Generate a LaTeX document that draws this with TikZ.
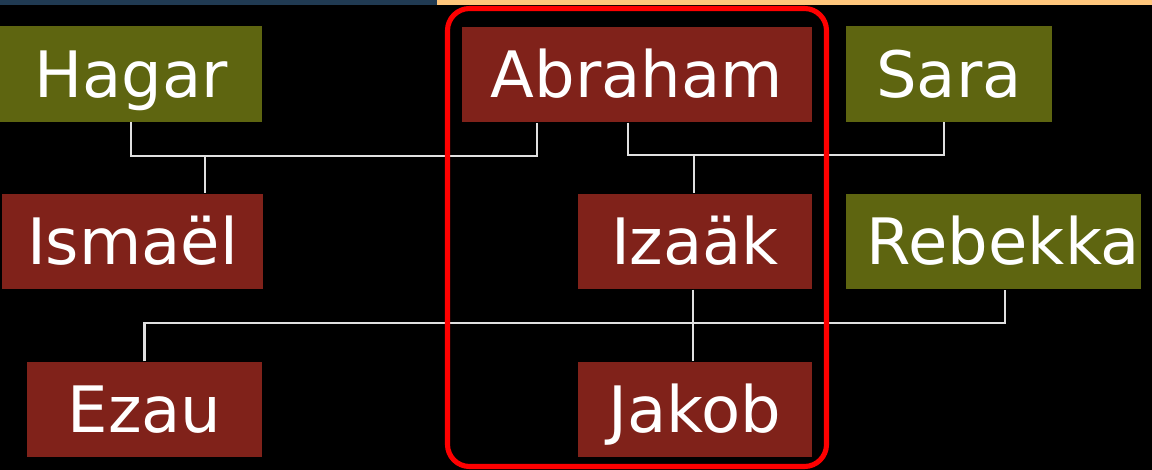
\documentclass[tikz,border=0pt]{standalone}
\usepackage{fontspec}
\setmainfont{DejaVu Sans}
\usetikzlibrary{positioning}

\definecolor{olivebox}{RGB}{94,101,16}
\definecolor{redbox}{RGB}{128,34,26}
\definecolor{barblue}{RGB}{32,58,82}
\definecolor{barpeach}{RGB}{255,198,124}

\tikzset{
  person/.style={text=white,font=\fontsize{18.2}{20}\selectfont,
    text height=13.3pt,text depth=0pt,inner sep=0pt,
    minimum height=0.95cm},
  wife/.style={person,fill=olivebox},
  heir/.style={person,fill=redbox},
  kin/.style={draw=white!88!black,line width=0.6pt},
  frame/.style={draw=red,line width=1.45pt,rounded corners=0.22cm}
}

\begin{document}
\begin{tikzpicture}[x=0.01cm,y=-0.01cm]

%BACKGROUND
\fill[black] (0,0) rectangle (1152,470);
\useasboundingbox (0,0) rectangle (1152,470);
% top bar
\fill[barblue] (0,0) rectangle (437,5);
\fill[barpeach] (437,0) rectangle (1152,5);

%PERSONS
% first generation
\node[wife,minimum width=2.62cm] (hagar) at (131,74) {Hagar};
\node[heir,minimum width=3.50cm] (abraham) at (637,74.5) {Abraham};
\node[wife,minimum width=2.06cm] (sara) at (949,74) {Sara};
% second generation
\node[heir,minimum width=2.61cm] (ismael) at (132.5,241.5) {Ismaël};
\node[heir,minimum width=2.34cm] (izaak) at (695,241.5) {Izaäk};
\node[wife,minimum width=2.95cm] (rebekka) at (993.5,241.5) {\hspace*{0.2cm}Rebekka};
% third generation
\node[heir,minimum width=2.35cm] (ezau) at (144.5,409.5) {Ezau};
\node[heir,minimum width=2.34cm] (jakob) at (695,409.5) {Jakob};

%LINES
\coordinate (ha) at (205,156);
\coordinate (as) at (694,155);
\coordinate (ir) at (693,323);
% Abraham & Hagar
\draw[kin] (hagar.south) |- (ha) -| ([xshift=-1cm]abraham.south);
\draw[kin] (ha) -- (ha |- ismael.north);
% Abraham & Sara
\draw[kin] ([xshift=-0.09cm]abraham.south) |- (as) -| ([xshift=-0.05cm]sara.south);
\draw[kin] (as) -- (as |- izaak.north);
% Izaak & Rebekka
\draw[kin] (ezau.north) |- (ir) -| ([xshift=0.115cm]rebekka.south);
\draw[kin] ([xshift=-0.02cm]izaak.south) -- ([xshift=-0.02cm]jakob.north);

%HIGHLIGHT
\draw[frame] (447.5,8.5) rectangle (826.5,466.5);

\end{tikzpicture}
\end{document}
